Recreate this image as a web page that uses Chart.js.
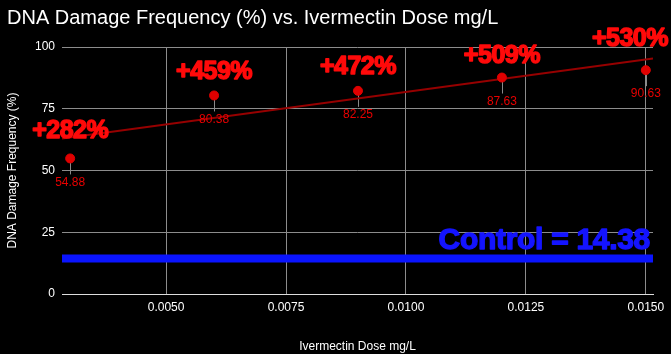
<!DOCTYPE html>
<html>
<head>
<meta charset="utf-8">
<script src="https://cdn.jsdelivr.net/npm/chart.js@4"></script>
<style>
  html, body { margin: 0; padding: 0; background: #000; }
  canvas { display: block; }
</style>
</head>
<body>
<canvas id="doseChart" width="671" height="354"></canvas>
<script>
// data
const doses = [0.003, 0.006, 0.009, 0.012, 0.015];
const damage = [54.88, 80.38, 82.25, 87.63, 90.63];
const increaseLabels = ['+282%', '+459%', '+472%', '+509%', '+530%'];
const control = 14.38;
const xRange = [0.00283, 0.01515];
const trendY = [63.0, 95.3];   // ends of the trendline at xRange
const xTicks = [0.005, 0.0075, 0.01, 0.0125, 0.015];
const yTicks = [0, 25, 50, 75, 100];

const titleText = 'DNA Damage Frequency (%) vs. Ivermectin Dose mg/L';

// offsets of the big % labels above their points
const bigLabelDy = [-27, -23, -24, -21, -31];

const overlay = {
   id: 'overlay',
   beforeDatasetsDraw(chart) {
      const ctx = chart.ctx;
      const meta = chart.getDatasetMeta(2);
      ctx.save();
      ctx.strokeStyle = '#8a8a8a';
      ctx.lineWidth = 1;
      meta.data.forEach(pt => {
         ctx.beginPath();
         ctx.moveTo(Math.round(pt.x) + 0.5, pt.y);
         ctx.lineTo(Math.round(pt.x) + 0.5, pt.y + 16);
         ctx.stroke();
      });
      ctx.restore();
   },
   afterDatasetsDraw(chart) {
      const ctx = chart.ctx;
      const meta = chart.getDatasetMeta(2);
      ctx.save();
      // small value labels
      ctx.font = '12px "Liberation Sans", Arial, sans-serif';
      ctx.fillStyle = '#e80000';
      ctx.textAlign = 'center';
      ctx.textBaseline = 'middle';
      meta.data.forEach((pt, i) => {
         ctx.fillText(damage[i].toFixed(2), pt.x, pt.y + 24);
      });

      // big % labels
      ctx.font = 'bold 25px "Liberation Sans", Arial, sans-serif';
      ctx.letterSpacing = '-0.5px';
      ctx.fillStyle = '#ff0a0a';
      ctx.strokeStyle = '#ff0a0a';
      ctx.lineWidth = 1.5;
      ctx.lineJoin = 'round';
      meta.data.forEach((pt, i) => {
         const w = ctx.measureText(increaseLabels[i]).width;
         let cx = pt.x;
         if (cx + w / 2 > chart.width - 3) cx = chart.width - 3 - w / 2;
         ctx.strokeText(increaseLabels[i], cx, pt.y + bigLabelDy[i]);
         ctx.fillText(increaseLabels[i], cx, pt.y + bigLabelDy[i]);
      });

      // control label
      const xs = chart.scales.x, ys = chart.scales.y;
      ctx.font = 'bold 30px "Liberation Sans", Arial, sans-serif';
      ctx.letterSpacing = '-0.3px';
      ctx.fillStyle = '#1414ff';
      ctx.strokeStyle = '#1414ff';
      ctx.lineWidth = 1.4;
      ctx.textAlign = 'right';
      const ty = ys.getPixelForValue(control) - 18;
      ctx.strokeText('Control = ' + control, xs.right - 3, ty);
      ctx.fillText('Control = ' + control, xs.right - 3, ty);

      // title
      ctx.letterSpacing = '0px';
      ctx.font = '20px "Liberation Sans", Arial, sans-serif';
      ctx.fillStyle = '#ffffff';
      ctx.textAlign = 'left';
      ctx.fillText(titleText, 7, 18);
      ctx.restore();
   }
};

const doseChart = new Chart(document.getElementById('doseChart'), {
   type: 'scatter',
   data: {
      datasets: [
         {
            label: 'Control',
            data: [{ x: xRange[0], y: control }, { x: xRange[1], y: control }],
            showLine: true,
            borderColor: '#0a14ff',
            borderWidth: 8,
            borderCapStyle: 'round',
            pointRadius: 0,
            order: 3
         },
         {
            label: 'Trend',
            data: [{ x: xRange[0], y: trendY[0] }, { x: xRange[1], y: trendY[1] }],
            showLine: true,
            borderColor: '#960000',
            borderWidth: 2,
            pointRadius: 0,
            order: 2
         },
         {
            label: 'DNA Damage Frequency (%)',
            data: doses.map((d, i) => ({ x: d, y: damage[i] })),
            backgroundColor: '#e00000',
            borderColor: '#e00000',
            pointRadius: 4.5,
            order: 1
         }
      ]
   },
   options: {
      responsive: false,
      animation: false,
      devicePixelRatio: 1,
      layout: { padding: { top: 47, right: 18, left: 0, bottom: 0 } },
      plugins: {
         legend: { display: false },
         title: { display: false },
         tooltip: { enabled: false }
      },
      scales: {
         x: {
            type: 'linear',
            min: xRange[0],
            max: xRange[1],
            afterBuildTicks: scale => { scale.ticks = xTicks.map(v => ({ value: v })); },
            afterFit: scale => { scale.height = 60; },
            ticks: {
               color: '#ffffff',
               padding: 6,
               font: { family: '"Liberation Sans", Arial, sans-serif', size: 12 },
               callback: v => v.toFixed(4)
            },
            grid: { color: '#8c8c8c', drawTicks: false },
            border: { color: '#dddddd' },
            title: {
               display: true,
               text: 'Ivermectin Dose mg/L',
               color: '#ffffff',
               font: { family: '"Liberation Sans", Arial, sans-serif', size: 12 },
               padding: { top: 8, bottom: 0 }
            }
         },
         y: {
            min: 0,
            max: 100,
            afterBuildTicks: scale => { scale.ticks = yTicks.map(v => ({ value: v })); },
            afterFit: scale => { scale.width = 62; },
            ticks: {
               color: '#ffffff',
               padding: 7,
               font: { family: '"Liberation Sans", Arial, sans-serif', size: 12 }
            },
            grid: {
               color: c => c.tick && c.tick.value === 0 ? '#dddddd' : '#8c8c8c',
               drawTicks: false
            },
            border: { display: false },
            title: {
               display: true,
               text: 'DNA Damage Frequency (%)',
               color: '#ffffff',
               font: { family: '"Liberation Sans", Arial, sans-serif', size: 12 },
               padding: { top: 5, bottom: 0 }
            }
         }
      }
   },
   plugins: [overlay]
});
</script>
</body>
</html>
